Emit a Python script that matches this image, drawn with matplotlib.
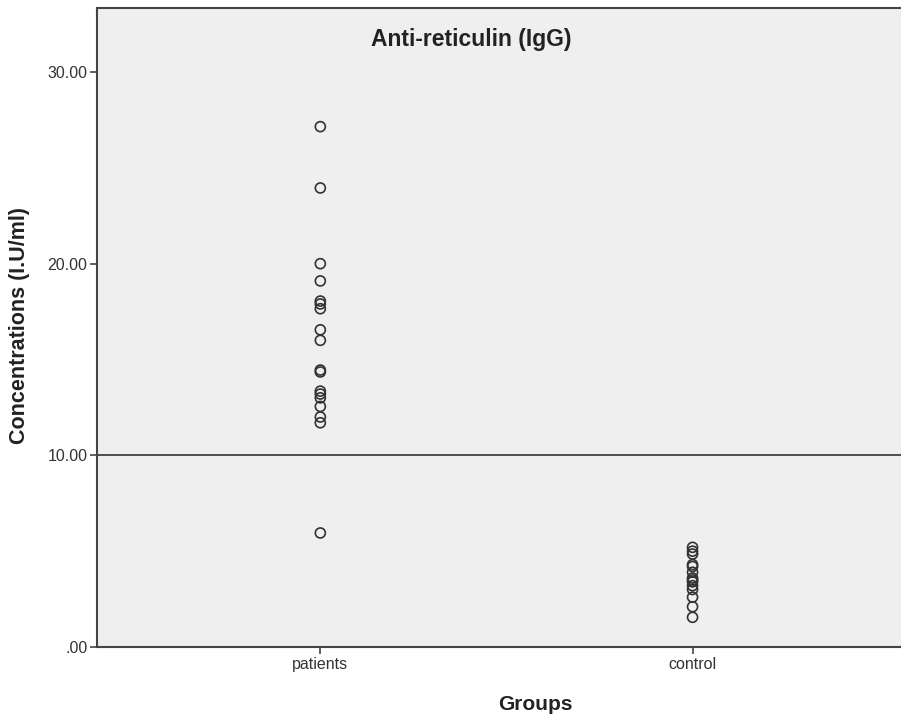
import matplotlib
matplotlib.use("Agg")
import matplotlib.pyplot as plt
from matplotlib.ticker import FuncFormatter

categories = ["patients", "control"]
patients = [27.15, 23.95, 20.0, 19.1, 18.05, 17.9, 17.65, 16.55, 16.0, 14.45, 14.35,
            13.35, 13.2, 13.0, 12.55, 12.0, 11.7, 5.95]
control = [5.2, 5.0, 4.85, 4.3, 4.2, 3.9, 3.6, 3.5, 3.4, 3.2, 3.0, 2.6, 2.1, 1.55]
ref_line = 10.0
yticks = [0, 10, 20, 30]

plt.rcParams['font.family'] = ['Liberation Sans', 'DejaVu Sans']

fig = plt.figure(figsize=(9.01, 7.17), dpi=100)
ax = fig.add_axes([97/901, 1 - 647/717, 1 - 97/901, (647 - 8)/717])
ax.set_facecolor('#efefef')

for i, vals in enumerate([patients, control]):
    ax.scatter([i + 1] * len(vals), vals, s=52, facecolors='none',
               edgecolors='#333333', linewidths=1.2, zorder=3)

ax.axhline(ref_line, color='#333333', linewidth=1.2, zorder=2)

ax.set_xlim(0.4, 2.56)
ax.set_ylim(0, 33.34)
ax.set_xticks([1, 2])
ax.set_xticklabels(categories)
ax.set_yticks(yticks)
ax.yaxis.set_major_formatter(FuncFormatter(lambda v, p: '.00' if v == 0 else f'{v:.2f}'))

for s in ['left', 'bottom', 'top']:
    ax.spines[s].set_color('#444444')
    ax.spines[s].set_linewidth(1.5)
ax.spines['right'].set_visible(False)
ax.tick_params(axis='both', direction='out', length=5, width=1.2, color='#444444',
               labelsize=11.5, labelcolor='#333333', pad=2)

ax.set_xlabel('Groups', fontsize=15, fontweight='bold', color='#222222')
ax.xaxis.set_label_coords((535 - 97) / 804, -(705 - 647) / 639)
ax.xaxis.label.set_va('center')
ax.set_ylabel('Concentrations (I.U/ml)', fontsize=15.5, fontweight='bold', color='#222222')
ax.yaxis.set_label_coords(-(97 - 20) / 804, (647 - 325) / 639)
ax.yaxis.label.set_va('center')
ax.text((471 - 97) / 804, (647 - 28) / 639, 'Anti-reticulin (IgG)', transform=ax.transAxes,
        ha='center', va='top', fontsize=16.5, fontweight='bold', color='#222222')

fig.savefig('out.png', dpi=100)
